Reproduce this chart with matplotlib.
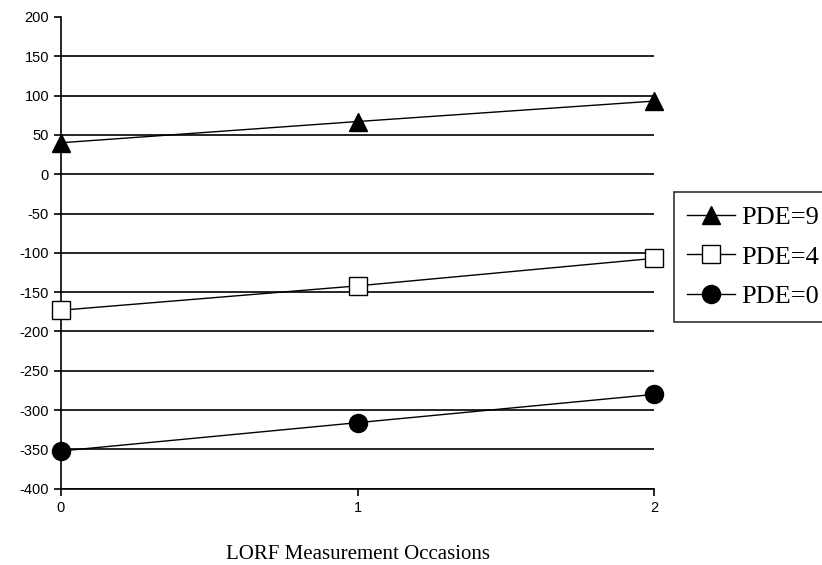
import matplotlib.pyplot as plt

plt.rcParams['axes.unicode_minus'] = False

occasions = [0, 1, 2]
pde9 = [40, 67, 93]
pde4 = [-173, -142, -107]
pde0 = [-352, -316, -280]
labels = ['PDE=9', 'PDE=4', 'PDE=0']
y_ticks = list(range(-400, 201, 50))

fig = plt.figure(figsize=(8.22, 5.65), dpi=100)
ax = fig.add_axes([0.074, 0.135, 0.722, 0.835])

# horizontal gridlines (none at the top)
for y in y_ticks[:-1]:
    ax.axhline(y, color='black', lw=1.2, zorder=1)

ax.plot(occasions, pde9, color='black', lw=1, marker='^', ms=13,
        mfc='black', mec='black', clip_on=False, zorder=3, label=labels[0])
ax.plot(occasions, pde4, color='black', lw=1, marker='s', ms=12.5,
        mfc='white', mec='black', clip_on=False, zorder=3, label=labels[1])
ax.plot(occasions, pde0, color='black', lw=1, marker='o', ms=13,
        mfc='black', mec='black', clip_on=False, zorder=3, label=labels[2])

ax.set_xlim(0, 2)
ax.set_ylim(-400, 200)
ax.set_xticks(occasions)
ax.set_yticks(y_ticks)
for s in ['top', 'right']:
    ax.spines[s].set_visible(False)
ax.spines['left'].set_linewidth(1.2)
ax.spines['bottom'].set_linewidth(1.2)
ax.tick_params(direction='out', length=5, width=1.2, labelsize=10.5)
for t in ax.get_xticklabels() + ax.get_yticklabels():
    t.set_family('Liberation Sans')

ax.set_xlabel('LORF Measurement Occasions', family='Liberation Serif',
              fontsize=15, labelpad=22)

leg = fig.legend(loc='upper left', bbox_to_anchor=(0.82, 0.66),
                 prop={'family': 'Liberation Serif', 'size': 19},
                 frameon=True, fancybox=False, edgecolor='black',
                 handlelength=1.8, handletextpad=0.25, borderpad=0.5,
                 labelspacing=0.62, borderaxespad=0, markerscale=1.0)
leg.get_frame().set_linewidth(1.2)

fig.savefig('out.png', dpi=100)
